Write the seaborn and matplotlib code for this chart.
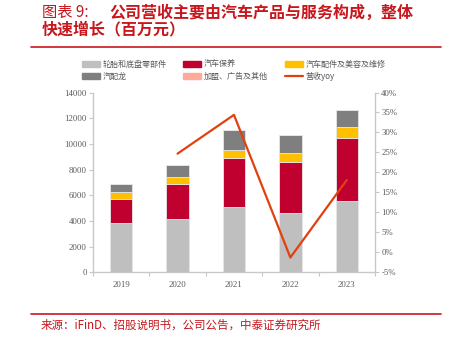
import matplotlib
matplotlib.use("Agg")
import matplotlib.pyplot as plt
import seaborn as sns
import numpy as np
from matplotlib.patches import Rectangle
from matplotlib.lines import Line2D

years = ["2019", "2020", "2021", "2022", "2023"]
tires = [3810, 4170, 5050, 4590, 5550]
maint = [1890, 2670, 3870, 4010, 4920]
parts = [520, 570, 590, 680, 830]
collision = [620, 910, 1580, 1450, 1350]
franchise = [0, 0, 0, 0, 0]
yoy_years = ["2020", "2021", "2022", "2023"]
yoy = [24.7, 34.4, -1.3, 18.1]

series_names = ["轮胎和底盘零部件", "汽车保养", "汽车配件及美容及维修", "汽配龙", "加盟、广告及其他"]
colors = ["#BFBFBF", "#C0002F", "#FFC000", "#7F7F7F", "#FFAB99"]
line_color = "#E2400E"
left_ticks = [0, 2000, 4000, 6000, 8000, 10000, 12000, 14000]
right_ticks = [-5, 0, 5, 10, 15, 20, 25, 30, 35, 40]

sns.set_theme(style="white")
plt.rcParams['font.family'] = ['Noto Sans CJK SC', 'DejaVu Sans']

fig = plt.figure(figsize=(4.51, 3.37), dpi=100)
ax = fig.add_axes([0.206, 0.192, 0.6255, 0.5335])

series = [tires, maint, parts, collision, franchise]
bottom = np.zeros(len(years))
for vals, col in zip(series, colors):
    sns.barplot(x=years, y=vals, bottom=bottom, color=col, width=0.4,
                edgecolor="#E6E6E6", linewidth=0.6, ax=ax, saturation=1)
    bottom = bottom + np.array(vals)

ax.set_xlim(-0.5, len(years) - 0.5)
ax.set_ylim(0, 14000)
ax.set_yticks(left_ticks)
ax.set_yticklabels([str(t) for t in left_ticks])
ax.set_xticks(range(len(years)))
ax.set_xticklabels(years)
ax.set_xticks(np.arange(-0.5, len(years)), minor=True)

ax2 = ax.twinx()
xpos = [years.index(y) for y in yoy_years]
sns.lineplot(x=xpos, y=yoy, color=line_color, linewidth=1.6, ax=ax2)
ax2.set_ylim(-5, 40)
ax2.set_yticks(right_ticks)
ax2.set_yticklabels([f"{t}%" for t in right_ticks])
ax2.set_xlim(-0.5, len(years) - 0.5)

spine_c = "#C8C8C8"
for a in (ax, ax2):
    for s in a.spines.values():
        s.set_visible(False)
ax.spines['left'].set_visible(True)
ax.spines['bottom'].set_visible(True)
ax2.spines['right'].set_visible(True)
for s in (ax.spines['left'], ax.spines['bottom'], ax2.spines['right']):
    s.set_color(spine_c)
    s.set_linewidth(1.0)

tick_font = dict(family=['Liberation Serif', 'DejaVu Serif'], size=6.3, color='#595959')
ax.tick_params(axis='y', which='both', direction='out', length=3, width=0.8, color=spine_c, pad=1.5, left=True)
ax.tick_params(axis='x', which='major', length=0, pad=6)
ax.tick_params(axis='x', which='minor', direction='out', length=3, width=0.8, color=spine_c, bottom=True)
ax2.tick_params(axis='y', direction='out', length=3, width=0.8, color=spine_c, pad=1.5, right=True)
for lab in ax.get_xticklabels() + ax.get_yticklabels() + ax2.get_yticklabels():
    lab.set_fontfamily(tick_font['family'])
    lab.set_fontsize(tick_font['size'])
    lab.set_color(tick_font['color'])
ax.set_xlabel("")
ax.set_ylabel("")
ax2.set_ylabel("")
ax.grid(False)
ax2.grid(False)

# Legend: three columns, two rows
def patch(c):
    return Rectangle((0, 0), 1, 1, color=c)

cols = [
    ([patch(colors[0]), patch(colors[3])], [series_names[0], series_names[3]], 0.178),
    ([patch(colors[1]), patch(colors[4])], [series_names[1], series_names[4]], 0.402),
    ([patch(colors[2]), Line2D([0], [0], color=line_color, linewidth=1.6)],
     [series_names[2], "营收yoy"], 0.628),
]
for hs, ls, xa in cols:
    leg = fig.legend(hs, ls, ncol=1, loc='upper left',
                     bbox_to_anchor=(xa, 0.828), frameon=False,
                     prop=dict(family=['Noto Sans CJK SC', 'DejaVu Sans'], size=5.8),
                     handlelength=2.25, handleheight=0.75, handletextpad=0.35,
                     labelspacing=0.45, borderpad=0.2, borderaxespad=0)
    for t in leg.get_texts():
        t.set_color('#595959')

title_c = "#C8161D"
fig.text(0.093, 0.964, "图表 9:", fontsize=11, color=title_c, ha='left', va='center')
fig.text(0.242, 0.964, "公司营收主要由汽车产品与服务构成，整体", fontsize=11.5,
         color=title_c, ha='left', va='center', fontweight='bold')
fig.text(0.093, 0.912, "快速增长（百万元）", fontsize=11.5, color=title_c,
         ha='left', va='center', fontweight='bold')
fig.add_artist(Line2D([0.069, 0.978], [0.861, 0.861], color=title_c, linewidth=1.2,
                      transform=fig.transFigure))
fig.add_artist(Line2D([0.069, 0.978], [0.068, 0.068], color=title_c, linewidth=1.2,
                      transform=fig.transFigure))
fig.text(0.089, 0.034, "来源：iFinD、招股说明书，公司公告，中泰证券研究所", fontsize=8.3,
         color=title_c, ha='left', va='center')

fig.savefig("out.png", dpi=100)
